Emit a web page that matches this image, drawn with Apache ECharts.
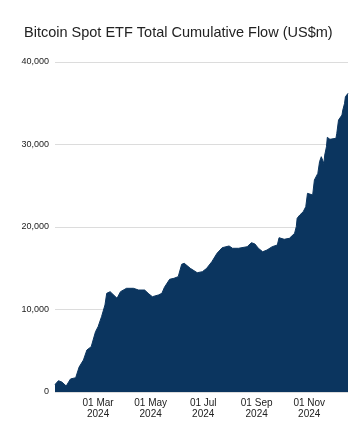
<!DOCTYPE html>
<html>
<head>
<meta charset="utf-8">
<script src="https://cdn.jsdelivr.net/npm/echarts@6/dist/echarts.min.js"></script>
<style>
html,body{margin:0;padding:0;background:#fff;}
#chart{width:359px;height:441px;}
</style>
</head>
<body>
<div id="chart"></div>
<script>
const titleText = 'Bitcoin Spot ETF Total Cumulative Flow (US$m)';
const dates = [
  '2024-01-11','2024-01-15','2024-01-19','2024-01-24','2024-01-29','2024-02-04','2024-02-08','2024-02-13',
  '2024-02-17','2024-02-22','2024-02-27','2024-03-01','2024-03-05','2024-03-09','2024-03-11','2024-03-15',
  '2024-03-23','2024-03-27','2024-04-03','2024-04-11','2024-04-17','2024-04-24','2024-04-29','2024-05-03',
  '2024-05-10','2024-05-14','2024-05-17','2024-05-23','2024-05-28','2024-06-02','2024-06-06','2024-06-09',
  '2024-06-16','2024-06-24','2024-06-30','2024-07-05','2024-07-11','2024-07-17','2024-07-23','2024-07-31',
  '2024-08-04','2024-08-11','2024-08-21','2024-08-26','2024-08-30','2024-09-03','2024-09-08','2024-09-13',
  '2024-09-19','2024-09-25','2024-09-27','2024-10-03','2024-10-09','2024-10-15','2024-10-17','2024-10-18',
  '2024-10-21','2024-10-25','2024-10-28','2024-10-30','2024-11-01','2024-11-05','2024-11-07','2024-11-11',
  '2024-11-13','2024-11-15','2024-11-18','2024-11-19','2024-11-21','2024-11-22','2024-11-25','2024-11-27',
  '2024-12-02','2024-12-03','2024-12-05','2024-12-09','2024-12-10','2024-12-12','2024-12-13','2024-12-16'
];
const values = [
  900,1370,1200,730,1580,1730,3030,3880,
  5090,5490,7310,7910,9130,10550,11960,12160,
  11360,12160,12570,12570,12360,12360,11880,11550,
  11760,11960,12690,13660,13780,13980,15480,15600,
  14990,14460,14580,14990,15790,16810,17490,17700,
  17420,17420,17610,18100,17940,17420,17000,17210,
  17610,17820,18700,18510,18630,19230,20040,21050,
  21450,21850,22460,24080,24280,23880,25700,26500,
  27910,28520,27710,28720,29730,30870,30630,30420,
  30750,31350,32960,33570,34180,34990,35790,36200
];
const xTickDates = ['2024-03-01','2024-05-01','2024-07-01','2024-09-01','2024-11-01'];
const xTickLabels = ['01 Mar\n2024','01 May\n2024','01 Jul\n2024','01 Sep\n2024','01 Nov\n2024'];
const yTicks = [0,10000,20000,30000,40000];
const yTickLabels = ['0','10,000','20,000','30,000','40,000'];

const DAY = 86400000;
const ts = d => { const p = d.split('-').map(Number); return Date.UTC(p[0], p[1]-1, p[2]) / DAY; };
const tickTs = xTickDates.map(ts);
const seriesData = dates.map((d, i) => [ts(d), values[i]]);

const chart = echarts.init(document.getElementById('chart'), null, {renderer: 'canvas'});
chart.setOption({
  animation: false,
  backgroundColor: '#ffffff',
  title: {
    text: titleText,
    left: 19, top: 20,
    textStyle: {fontFamily: 'Liberation Sans, Arial, sans-serif', fontSize: 14.5, fontWeight: 'normal', color: '#222222'}
  },
  grid: {left: 55, right: 11, top: 62, bottom: 49, containLabel: false},
  xAxis: {
    type: 'value',
    min: ts(dates[0]), max: ts(dates[dates.length-1]),
    axisLine: {show: false},
    axisTick: {show: false},
    splitLine: {show: false},
    axisLabel: {
      customValues: tickTs,
      formatter: function (v) { const i = tickTs.indexOf(v); return i >= 0 ? xTickLabels[i] : ''; },
      fontFamily: 'Liberation Sans, Arial, sans-serif', fontSize: 10, color: '#222222',
      lineHeight: 11, margin: 6
    }
  },
  yAxis: {
    type: 'value',
    min: 0, max: 40000, interval: 10000,
    axisLine: {show: false},
    axisTick: {show: false},
    splitLine: {lineStyle: {color: '#dcdcdc', width: 1}},
    axisLabel: {
      formatter: function (v) { const i = yTicks.indexOf(v); return i >= 0 ? yTickLabels[i] : ''; },
      fontFamily: 'Liberation Sans, Arial, sans-serif', fontSize: 9, color: '#222222', margin: 6
    }
  },
  series: [{
    type: 'line',
    data: seriesData,
    showSymbol: false,
    lineStyle: {color: '#0b355f', width: 1},
    areaStyle: {color: '#0b355f', opacity: 1},
    itemStyle: {color: '#0b355f'}
  }]
});
</script>
</body>
</html>
